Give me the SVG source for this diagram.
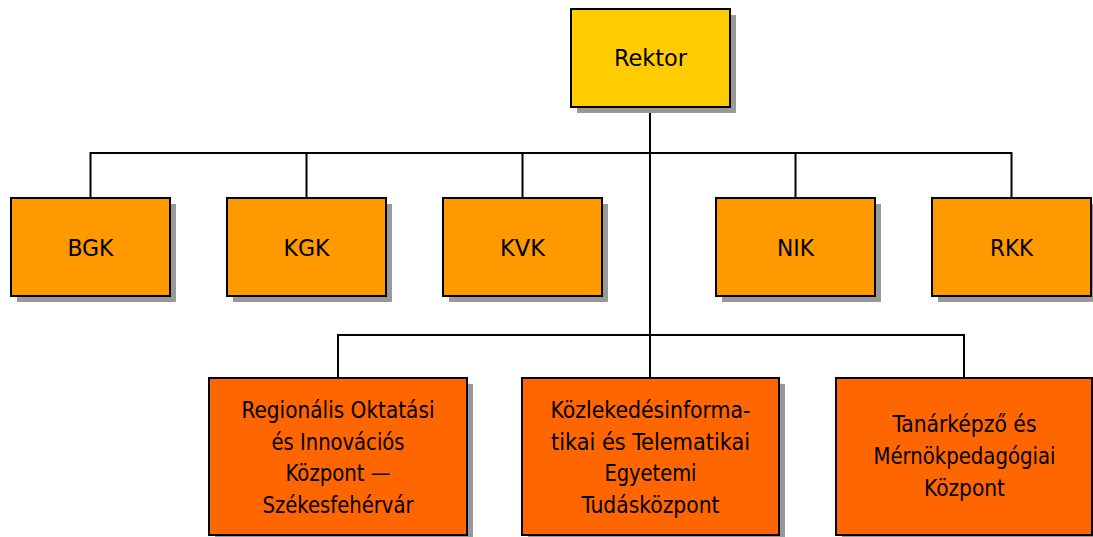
<svg xmlns="http://www.w3.org/2000/svg" width="1093" height="537" viewBox="0 0 1093 537">
<style>
.sh{fill:#999999}
.box{stroke:#000;stroke-width:2}
.r{fill:#FFCC00}
.f{fill:#FF9900}
.c{fill:#FF6600}
text{font-family:"DejaVu Sans Condensed","DejaVu Sans",sans-serif;font-stretch:condensed;font-size:23px;fill:#000;text-anchor:middle}
.con{fill:none;stroke:#000;stroke-width:2}
</style>
<rect width="1093" height="537" fill="#fff"/>
<g id="connectors">
<path class="con" d="M650 107V335M90.5 198V153H1011.5V198M306.5 153V198M522.5 153V198M795.5 153V198M338 378V335H964V378M650 335V378"/>
</g>
<g id="rektor">
<rect class="sh" x="577" y="15" width="159" height="98"/>
<rect class="box r" x="571" y="9" width="159" height="98"/>
<text x="650.5" y="66" textLength="73" lengthAdjust="spacingAndGlyphs">Rektor</text>
</g>
<g id="bgk">
<rect class="sh" x="17" y="204" width="159" height="98"/>
<rect class="box f" x="11" y="198" width="159" height="98"/>
<text x="90.5" y="256" textLength="46" lengthAdjust="spacingAndGlyphs">BGK</text>
</g>
<g id="kgk">
<rect class="sh" x="233" y="204" width="159" height="98"/>
<rect class="box f" x="227" y="198" width="159" height="98"/>
<text x="306.5" y="256" textLength="46" lengthAdjust="spacingAndGlyphs">KGK</text>
</g>
<g id="kvk">
<rect class="sh" x="449" y="204" width="159" height="98"/>
<rect class="box f" x="443" y="198" width="159" height="98"/>
<text x="522.5" y="256" textLength="45" lengthAdjust="spacingAndGlyphs">KVK</text>
</g>
<g id="nik">
<rect class="sh" x="722" y="204" width="159" height="98"/>
<rect class="box f" x="716" y="198" width="159" height="98"/>
<text x="795.5" y="256" textLength="37" lengthAdjust="spacingAndGlyphs">NIK</text>
</g>
<g id="rkk">
<rect class="sh" x="938" y="204" width="159" height="98"/>
<rect class="box f" x="932" y="198" width="159" height="98"/>
<text x="1011.5" y="256" textLength="43" lengthAdjust="spacingAndGlyphs">RKK</text>
</g>
<g id="roik">
<rect class="sh" x="215" y="384" width="258" height="157"/>
<rect class="box c" x="209" y="378" width="258" height="157"/>
<text x="338" y="418" textLength="193" lengthAdjust="spacingAndGlyphs">Regionális Oktatási</text>
<text x="338" y="449.5" textLength="133" lengthAdjust="spacingAndGlyphs">és Innovációs</text>
<text x="338" y="481" textLength="105" lengthAdjust="spacingAndGlyphs">Központ —</text>
<text x="338" y="512.5" textLength="151" lengthAdjust="spacingAndGlyphs">Székesfehérvár</text>
</g>
<g id="kite">
<rect class="sh" x="528" y="384" width="257" height="157"/>
<rect class="box c" x="522" y="378" width="257" height="157"/>
<text x="650.5" y="418" textLength="200" lengthAdjust="spacingAndGlyphs">Közlekedésinforma-</text>
<text x="650.5" y="449.5" textLength="199" lengthAdjust="spacingAndGlyphs">tikai és Telematikai</text>
<text x="650.5" y="481" textLength="92" lengthAdjust="spacingAndGlyphs">Egyetemi</text>
<text x="650.5" y="512.5" textLength="138" lengthAdjust="spacingAndGlyphs">Tudásközpont</text>
</g>
<g id="tmpk">
<rect class="sh" x="842" y="384" width="256" height="157"/>
<rect class="box c" x="836" y="378" width="256" height="157"/>
<text x="964.5" y="432" textLength="144" lengthAdjust="spacingAndGlyphs">Tanárképző és</text>
<text x="964.5" y="464" textLength="182" lengthAdjust="spacingAndGlyphs">Mérnökpedagógiai</text>
<text x="964.5" y="496" textLength="81" lengthAdjust="spacingAndGlyphs">Központ</text>
</g>
</svg>
